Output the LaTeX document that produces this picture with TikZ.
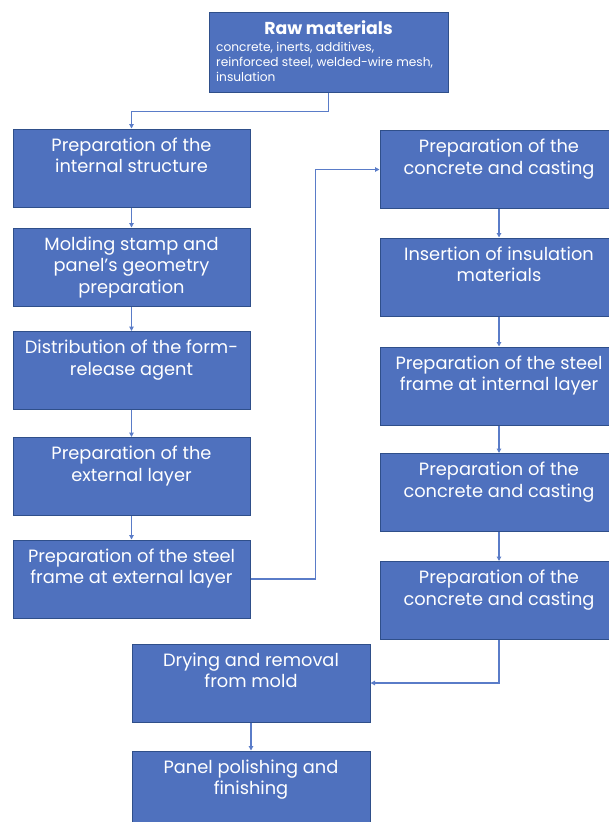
\documentclass[tikz,border=0pt]{standalone}
\usepackage{fontspec}
\setmainfont{Poppins}
\usetikzlibrary{arrows.meta,positioning}

\definecolor{boxfill}{HTML}{4F71BE}
\definecolor{boxline}{HTML}{2F4F8A}
\definecolor{linkcol}{HTML}{5A7CC8}

\tikzset{
  box/.style={draw=boxline, line width=1pt, fill=boxfill, minimum width=237, minimum height=78, inner sep=0pt},
  boxtext/.style={text=white, align=center, anchor=north, inner sep=0pt, font=\fontsize{17.8}{21.5}\selectfont},
  link/.style={draw=linkcol, line width=1.3pt, -{Triangle[length=4.5pt,width=4.5pt]}}
}

\begin{document}
\begin{tikzpicture}[x=1pt,y=-1pt]
    \useasboundingbox (0,0) rectangle (608,822);

    % raw materials
    \node[box, minimum width=239, minimum height=80] (raw) at (328.5,52) {};
    \node[boxtext, font=\fontsize{17.3}{20}\bfseries\selectfont, below=9pt of raw.north, inner sep=0pt] (rawt) {Raw materials};
    \node[text=white, align=left, anchor=north west, inner sep=0pt, font=\fontsize{12.2}{15}\selectfont] (rawd) at (216,42.5)
      {concrete, inerts, additives,\\reinforced steel, welded-wire mesh,\\insulation};

    % left column
    \foreach \n/\y/\txt in {l1/168/{Preparation of the\\internal structure},
                            l2/267/{Molding stamp and\\panel's geometry\\preparation},
                            l3/370.5/{Distribution of the form-\\release agent},
                            l4/476.5/{Preparation of the\\external layer},
                            l5/579/{Preparation of the steel\\frame at external layer}} {
      \node[box] (\n) at (131.5,\y) {};
      \node[boxtext, below=9pt of \n.north] (\n t) {\txt};
    }

    % right column
    \foreach \n/\y/\txt in {r1/169.5/{Preparation of the\\concrete and casting},
                            r2/277/{Insertion of insulation\\materials},
                            r3/386/{Preparation of the steel\\frame at internal layer},
                            r4/492.5/{Preparation of the\\concrete and casting},
                            r5/600.5/{Preparation of the\\concrete and casting}} {
      \node[box, minimum width=238] (\n) at (499,\y) {};
      \node[boxtext, below=9pt of \n.north] (\n t) {\txt};
    }

    % bottom
    \node[box, minimum width=238] (dry) at (251,683) {};
    \node[boxtext, below=9pt of dry.north] (dryt) {Drying and removal\\from mold};
    \node[box, minimum width=238] (pol) at (251,790) {};
    \node[boxtext, below=9pt of pol.north] (polt) {Panel polishing and\\finishing};

    % connectors
    \draw[link] (raw.south) -- ++(0,19) -| (l1.north);
    \draw[link] (l1) -- (l2);
    \draw[link] (l2) -- (l3);
    \draw[link] (l3) -- (l4);
    \draw[link] (l4) -- (l5);
    \draw[link] (l5.east) -- ++(65,0) |- (r1.west);
    \draw[link] (r1) -- (r2);
    \draw[link] (r2) -- (r3);
    \draw[link] (r3) -- (r4);
    \draw[link] (r4) -- (r5);
    \draw[link] (r5.south) |- (dry.east);
    \draw[link] (dry) -- (pol);
\end{tikzpicture}
\end{document}
